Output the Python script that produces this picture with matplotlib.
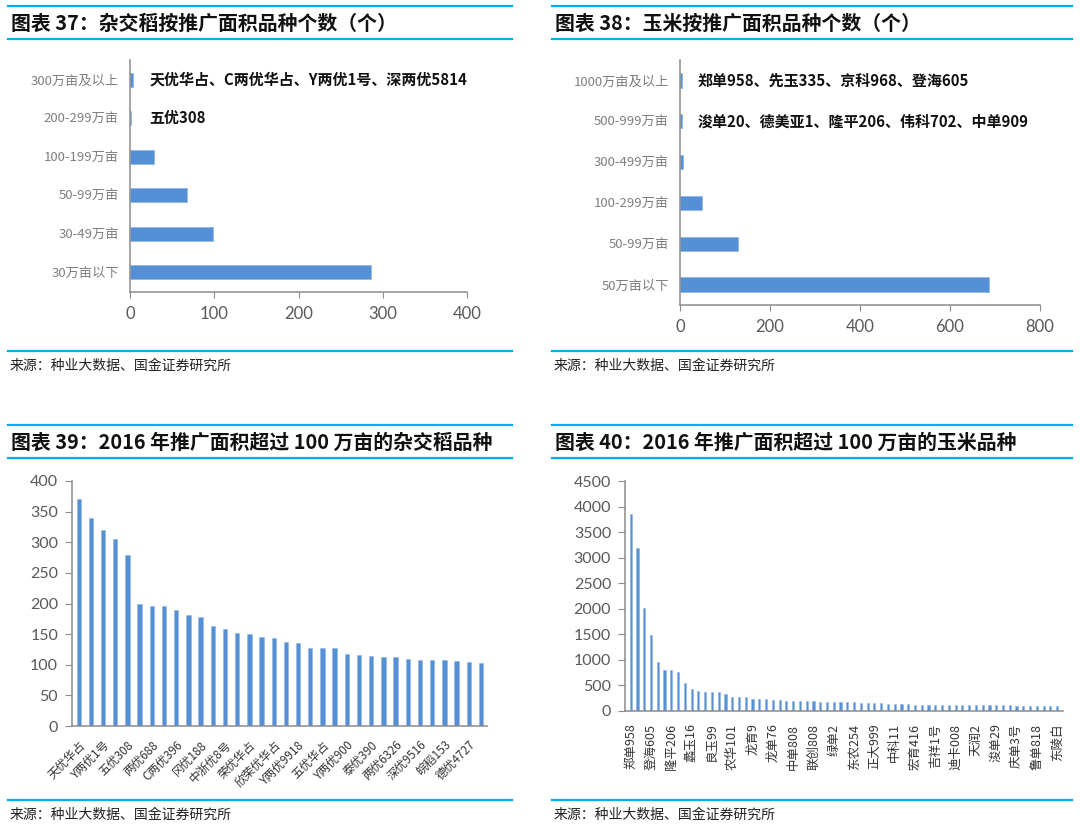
import matplotlib
matplotlib.use("Agg")
import matplotlib.pyplot as plt
from matplotlib.lines import Line2D

plt.rcParams["font.family"] = ["Noto Sans CJK SC", "DejaVu Sans"]

# ── Data ──────────────────────────────────────────────────────────
rice_area_cats   = ["30万亩以下", "30-49万亩", "50-99万亩", "100-199万亩", "200-299万亩", "300万亩及以上"]
rice_area_counts = [286, 98, 68, 29, 1, 4]
rice_area_notes  = {5: "天优华占、C两优华占、Y两优1号、深两优5814", 4: "五优308"}

corn_area_cats   = ["50万亩以下", "50-99万亩", "100-299万亩", "300-499万亩", "500-999万亩", "1000万亩及以上"]
corn_area_counts = [687, 128, 49, 6, 5, 4]
corn_area_notes  = {5: "郑单958、先玉335、京科968、登海605", 4: "浚单20、德美亚1、隆平206、伟科702、中单909"}

rice_top_values = [371, 340, 320, 306, 279, 200, 196, 196, 190, 181, 178, 163, 158, 152,
                   151, 146, 143, 137, 136, 128, 127, 127, 117, 116, 114, 113, 112, 110,
                   108, 108, 107, 106, 104, 103]
rice_top_labels = ["天优华占", "Y两优1号", "五优308", "两优688", "C两优396", "冈优188",
                   "中浙优8号", "荣优华占", "欣荣优华占", "Y两优9918", "五优华占", "Y两优900",
                   "泰优390", "两优6326", "深优9516", "皖稻153", "德优4727"]   # every 2nd bar

corn_top_values = [3850, 3190, 2015, 1480, 950, 810, 810, 755, 545, 430, 390, 370, 365, 365,
                   335, 280, 280, 270, 240, 240, 230, 225, 225, 200, 200, 198, 192, 190,
                   185, 185, 182, 178, 172, 170, 160, 158, 157, 148, 142, 140, 135, 133,
                   125, 124, 123, 122, 121, 120, 116, 115, 112, 111, 110, 110, 109, 108,
                   108, 107, 106, 103, 102, 102, 101, 101]
corn_top_labels = ["郑单958", "登海605", "隆平206", "蠡玉16", "良玉99", "农华101", "龙育9",
                   "龙单76", "中单808", "联创808", "绿单2", "东农254", "正大999", "中科11",
                   "宏育416", "吉祥1号", "迪卡008", "天润2", "浚单29", "庆单3号", "鲁单818",
                   "东陵白"]   # every 3rd bar

TITLES = ["图表 37：杂交稻按推广面积品种个数（个）",
          "图表 38：玉米按推广面积品种个数（个）",
          "图表 39：2016 年推广面积超过 100 万亩的杂交稻品种",
          "图表 40：2016 年推广面积超过 100 万亩的玉米品种"]
SOURCE = "来源：种业大数据、国金证券研究所"

# ── Style ─────────────────────────────────────────────────────────
W, H      = 1080, 827
BAR       = "#5590D6"
RULE      = "#00B0F0"
SPINE     = "#8C8C8C"
TICK_TXT  = "#595959"
CAT_TXT   = "#7F7F7F"
NUM_FONT  = ["Lato", "DejaVu Sans"]

fig = plt.figure(figsize=(W / 100, H / 100), dpi=100)


def px_axes(left, top, right, bottom):
    return fig.add_axes([left / W, 1 - bottom / H, (right - left) / W, (bottom - top) / H])


def hline(x0, x1, y):
    fig.add_artist(Line2D([x0 / W, x1 / W], [1 - y / H, 1 - y / H],
                          color=RULE, lw=1.6, transform=fig.transFigure))


def frame(x0, x1, y_title, y_src):
    hline(x0, x1, y_title - 17)
    hline(x0, x1, y_title + 16)
    hline(x0, x1, y_src)


def style_spines(ax, keep):
    for side, sp in ax.spines.items():
        sp.set_visible(side in keep)
        sp.set_color(SPINE)
        sp.set_linewidth(1.1)


# ── Frames, titles, sources ───────────────────────────────────────
panels = [(8, 512, 23, 351), (552, 1072, 23, 351), (8, 512, 442, 800), (552, 1072, 442, 800)]
for (x0, x1, yt, ys), title in zip(panels, TITLES):
    frame(x0, x1, yt, ys)
    fig.text((x0 + 3) / W, 1 - yt / H, title, fontsize=14.3, fontweight="bold",
             va="center", ha="left", color="#111111")
    fig.text((x0 + 2) / W, 1 - (ys + 15) / H, SOURCE, fontsize=10,
             va="center", ha="left", color="#222222")


# ── Horizontal bar charts (top row) ───────────────────────────────
def hbar_panel(ax, cats, counts, notes, xmax, xstep, ylim, note_x, height):
    y = list(range(len(cats)))
    ax.barh(y, counts, height=height, color=BAR, edgecolor="#8DB4E2", linewidth=0.5)
    ax.set_xlim(0, xmax)
    ax.set_ylim(*ylim)
    ax.set_xticks(range(0, xmax + 1, xstep))
    ax.set_yticks(y)
    ax.set_yticklabels(cats, fontsize=9.5, color=CAT_TXT)
    for lab in ax.get_xticklabels():
        lab.set_fontfamily(NUM_FONT)
    ax.tick_params(axis="x", length=4, color=SPINE, labelsize=12, labelcolor=TICK_TXT, pad=6)
    ax.tick_params(axis="y", length=0, pad=8)
    style_spines(ax, ("left", "bottom"))
    for idx, txt in notes.items():
        ax.text(note_x, idx, txt, fontsize=10.8, fontweight="bold", va="center",
                ha="left", color="#111111")


ax1 = px_axes(130, 60, 467, 292)
hbar_panel(ax1, rice_area_cats, rice_area_counts, rice_area_notes,
           400, 100, (-0.52, 5.52), 23, 0.36)

ax2 = px_axes(680, 60, 1040, 305)
hbar_panel(ax2, corn_area_cats, corn_area_counts, corn_area_notes,
           800, 200, (-0.5, 5.5), 38, 0.35)


# ── Vertical bar charts (bottom row) ──────────────────────────────
def vbar_panel(ax, values, labels, every, ymax, ystep, xlim, width, rot, lab_size):
    x = list(range(len(values)))
    ax.bar(x, values, width=width, color=BAR, edgecolor="#8DB4E2", linewidth=0.4)
    ax.set_xlim(*xlim)
    ax.set_ylim(0, ymax)
    ax.set_yticks(range(0, ymax + 1, ystep))
    for lab in ax.get_yticklabels():
        lab.set_fontfamily(NUM_FONT)
    ax.tick_params(axis="y", length=5, color=SPINE, labelsize=11.5, labelcolor=TICK_TXT, pad=5)
    ticks = x[::every][:len(labels)]
    ax.set_xticks(ticks)
    if rot == 90:
        ax.set_xticklabels(labels, rotation=90, fontsize=lab_size, color="#333333",
                           ha="center", va="top")
        ax.tick_params(axis="x", length=0, pad=9)
    else:
        ax.set_xticklabels(labels, rotation=rot, fontsize=lab_size, color="#333333",
                           ha="right", va="top", rotation_mode="anchor")
        ax.tick_params(axis="x", length=0, pad=9)
    style_spines(ax, ("left", "bottom"))


ax3 = px_axes(72, 481, 487, 726)
vbar_panel(ax3, rice_top_values, rice_top_labels, 2, 400, 50, (-0.55, 33.5), 0.36, 45, 8.5)

ax4 = px_axes(625, 481, 1063, 711)
vbar_panel(ax4, corn_top_values, corn_top_labels, 3, 4500, 500, (-0.84, 63.86), 0.32, 90, 9)

fig.savefig("out.png", dpi=100)
